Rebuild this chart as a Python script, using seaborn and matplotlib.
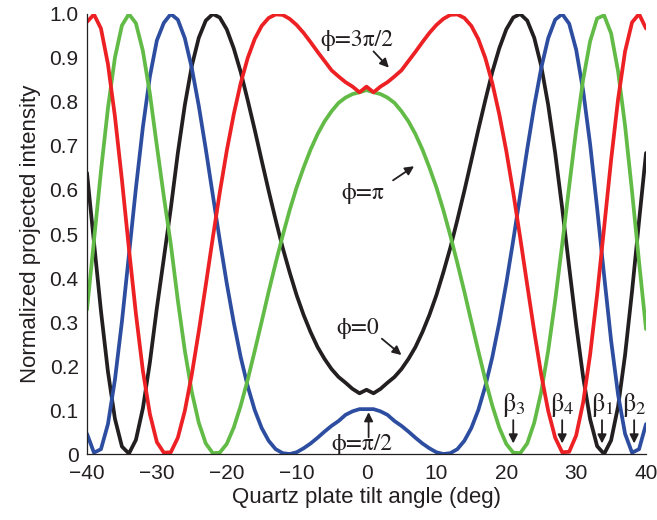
import matplotlib
matplotlib.use("Agg")
import matplotlib.pyplot as plt
import seaborn as sns
import pandas as pd

# ---- data ----
# first sample is the recorder's start value (drawn at -40), then -40 ... 40 deg
angle = [-40] + list(range(-40, 41))

phi_0 = [0.145,
         0.639, 0.481, 0.325, 0.187, 0.080, 0.017, 0.001, 0.032, 0.104, 0.208, 0.332,
         0.445, 0.559, 0.684, 0.793, 0.882, 0.946, 0.985, 1.000, 0.992, 0.965,
         0.922, 0.868, 0.804, 0.737, 0.667, 0.598, 0.532, 0.469, 0.413, 0.361,
         0.316, 0.277, 0.243, 0.216, 0.193, 0.175, 0.162, 0.148, 0.138,
         0.146,
         0.138, 0.148, 0.162, 0.175, 0.193, 0.216, 0.243, 0.277, 0.316, 0.361,
         0.413, 0.469, 0.532, 0.598, 0.667, 0.737, 0.804, 0.868, 0.922, 0.965,
         0.992, 1.000, 0.985, 0.946, 0.882, 0.793, 0.684, 0.559, 0.425, 0.294,
         0.175, 0.079, 0.018, 0.000, 0.031, 0.108, 0.225, 0.370, 0.529, 0.684]

phi_pi2 = [0.104,
           0.046, 0.003, 0.011, 0.068, 0.169, 0.301, 0.452, 0.604, 0.743, 0.858, 0.940,
           0.980, 1.000, 0.987, 0.945, 0.877, 0.791, 0.693, 0.589, 0.486, 0.388,
           0.299, 0.220, 0.154, 0.100, 0.059, 0.030, 0.011, 0.002, 0.000, 0.004,
           0.013, 0.024, 0.037, 0.051, 0.064, 0.075, 0.089, 0.097, 0.102,
           0.102,
           0.102, 0.097, 0.089, 0.075, 0.064, 0.051, 0.037, 0.024, 0.013, 0.004,
           0.000, 0.002, 0.011, 0.030, 0.059, 0.100, 0.154, 0.220, 0.299, 0.388,
           0.486, 0.589, 0.693, 0.791, 0.877, 0.945, 0.987, 1.000, 0.978, 0.919,
           0.826, 0.704, 0.559, 0.406, 0.258, 0.135, 0.046, 0.003, 0.011, 0.068]

phi_pi = [0.827,
          0.328, 0.485, 0.643, 0.786, 0.901, 0.974, 1.000, 0.979, 0.916, 0.819, 0.700,
          0.585, 0.476, 0.349, 0.235, 0.141, 0.071, 0.024, 0.002, 0.003, 0.023,
          0.060, 0.110, 0.169, 0.234, 0.301, 0.369, 0.434, 0.496, 0.554, 0.606,
          0.651, 0.692, 0.727, 0.756, 0.779, 0.798, 0.810, 0.818, 0.822,
          0.827,
          0.822, 0.818, 0.810, 0.798, 0.779, 0.756, 0.727, 0.692, 0.651, 0.606,
          0.554, 0.496, 0.434, 0.369, 0.301, 0.234, 0.169, 0.110, 0.060, 0.023,
          0.003, 0.002, 0.024, 0.071, 0.141, 0.235, 0.349, 0.476, 0.608, 0.737,
          0.851, 0.938, 0.990, 0.997, 0.956, 0.870, 0.746, 0.596, 0.437, 0.284]

phi_3pi2 = [0.846,
            0.982, 0.999, 0.967, 0.886, 0.767, 0.623, 0.467, 0.319, 0.189, 0.091, 0.027,
            0.003, 0.004, 0.037, 0.098, 0.181, 0.279, 0.384, 0.491, 0.594, 0.689,
            0.772, 0.843, 0.900, 0.943, 0.973, 0.991, 0.999, 0.998, 0.989, 0.975,
            0.957, 0.936, 0.914, 0.893, 0.872, 0.858, 0.845, 0.835, 0.822,
            0.835,
            0.822, 0.835, 0.845, 0.858, 0.872, 0.893, 0.914, 0.936, 0.957, 0.975,
            0.989, 0.998, 0.999, 0.991, 0.973, 0.943, 0.900, 0.843, 0.772, 0.689,
            0.594, 0.491, 0.384, 0.279, 0.181, 0.098, 0.037, 0.004, 0.005, 0.042,
            0.117, 0.226, 0.362, 0.514, 0.668, 0.806, 0.915, 0.981, 1.000, 0.967]

series_names = ["phi=0", "phi=pi/2", "phi=pi", "phi=3pi/2"]
series_colors = ["#231F20", "#2D4EA0", "#62BB46", "#ED2024"]

x_ticks = [-40, -30, -20, -10, 0, 10, 20, 30, 40]
y_ticks = [0, 0.1, 0.2, 0.3, 0.4, 0.5, 0.6, 0.7, 0.8, 0.9, 1.0]
y_ticklabels = ["0", "0.1", "0.2", "0.3", "0.4", "0.5", "0.6", "0.7", "0.8", "0.9", "1.0"]

beta_labels = ["\u03b2$_3$", "\u03b2$_4$", "\u03b2$_1$", "\u03b2$_2$"]
beta_pos = [21.0, 28.0, 33.7, 38.3]

# ---- build long table ----
frames = []
for name, vals in zip(series_names, [phi_0, phi_pi2, phi_pi, phi_3pi2]):
    frames.append(pd.DataFrame({"angle": angle, "value": vals, "series": name}))
df = pd.concat(frames, ignore_index=True)
df["is_start"] = df.groupby("series").cumcount() == 0

sns.set_style("white")
plt.rcParams["font.family"] = ["Liberation Sans", "DejaVu Sans"]
plt.rcParams["mathtext.fontset"] = "stix"

fig = plt.figure(figsize=(6.57, 5.20), dpi=100)
ax = fig.add_axes([0.1324, 0.1269, 0.8509, 0.8462])

# thin connecting trace (includes the start sample) and the thick measured curves
sns.lineplot(data=df, x="angle", y="value", hue="series", hue_order=series_names,
             palette=series_colors, sort=False, estimator=None,
             linewidth=0.9, legend=False, ax=ax)
sns.lineplot(data=df[~df["is_start"]], x="angle", y="value", hue="series",
             hue_order=series_names, palette=series_colors, sort=False,
             estimator=None, linewidth=2.7, legend=False, ax=ax)

ax.set_xlim(-40, 40)
ax.set_ylim(0, 1.0)
ax.set_xticks(x_ticks)
ax.set_xticklabels([str(t).replace("-", "\u2212") for t in x_ticks])
ax.set_yticks(y_ticks)
ax.set_yticklabels(y_ticklabels)
ax.tick_params(direction="in", length=5, width=0.8, labelsize=15, colors="#231F20")
ax.tick_params(axis="x", pad=7)
ax.tick_params(axis="y", pad=6)
for s in ["top", "right"]:
    ax.spines[s].set_visible(False)
for s in ["left", "bottom"]:
    ax.spines[s].set_color("#231F20")
    ax.spines[s].set_linewidth(0.9)

ax.set_xlabel("Quartz plate tilt angle (deg)", fontsize=16, color="#231F20", labelpad=3)
ax.set_ylabel("Normalized projected intensity", fontsize=16, color="#231F20", labelpad=6)

serif = ["STIXGeneral", "Liberation Serif", "DejaVu Serif"]
ann_kw = dict(fontsize=17, color="#231F20", ha="center", va="center", family=serif)
arrow = dict(arrowstyle="-|>", color="#231F20", lw=1.3, mutation_scale=13, shrinkA=0, shrinkB=0)

ax.text(-1.4, 0.941, "\u03d5=3\u03c0/2", **ann_kw)
ax.annotate("", xy=(3.2, 0.878), xytext=(1.0, 0.915), arrowprops=arrow)

ax.text(-0.6, 0.593, "\u03d5=\u03c0", **ann_kw)
ax.annotate("", xy=(6.8, 0.654), xytext=(3.8, 0.622), arrowprops=arrow)

ax.text(-1.3, 0.286, "\u03d5=0", **ann_kw)
ax.annotate("", xy=(5.0, 0.225), xytext=(2.2, 0.262), arrowprops=arrow)

ax.text(-0.7, 0.022, "\u03d5=\u03c0/2", **ann_kw)
ax.annotate("", xy=(0.3, 0.095), xytext=(0.3, 0.038), arrowprops=arrow)

beta_kw = dict(ann_kw, fontsize=19)
for lab, bx in zip(beta_labels, beta_pos):
    ax.text(bx, 0.112, lab, **beta_kw)
    ax.annotate("", xy=(bx, 0.024), xytext=(bx, 0.077), arrowprops=arrow)

fig.savefig("out.png", dpi=100)
